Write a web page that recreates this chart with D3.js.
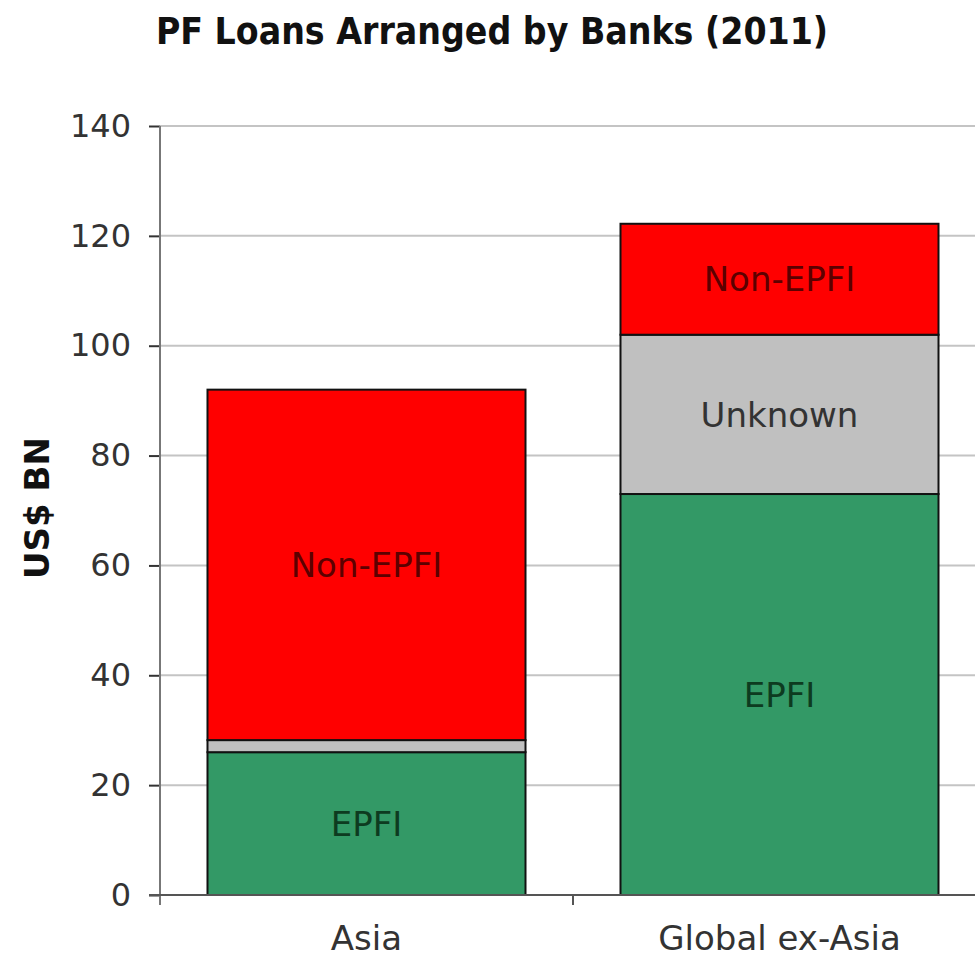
<!DOCTYPE html>
<html>
<head>
<meta charset="utf-8">
<script src="https://cdn.jsdelivr.net/npm/d3@7"></script>
<style>
  body { margin: 0; background: #fff; }
  text { font-family: "DejaVu Sans", Verdana, sans-serif; }
</style>
</head>
<body>
<div class="chart"></div>
<script>
// data
var categories = ["Asia", "Global ex-Asia"];
var seriesNames = ["EPFI", "Unknown", "Non-EPFI"];
var epfi = [26, 73];
var unknown = [2.2, 29];
var nonEpfi = [63.8, 20.2];
var yTicks = [0, 20, 40, 60, 80, 100, 120, 140];

var colors = { "EPFI": "#339966", "Unknown": "#c0c0c0", "Non-EPFI": "#ff0000" };
var labelColors = { "EPFI": "#0d3b20", "Unknown": "#333333", "Non-EPFI": "#5c0000" };

var marg = { t: 126, r: 0, b: 68, l: 160 };
var W = 975, H = 963;
var wid = 826;
var hei = H - marg.t - marg.b;

var svg = d3.select(".chart")
    .append("svg")
    .attr("width", W)
    .attr("height", H);

svg.append("text")
    .attr("x", 492)
    .attr("y", 44)
    .style("text-anchor", "middle")
    .style("font-family", "'DejaVu Sans Condensed', 'DejaVu Sans', sans-serif")
    .style("font-weight", "bold")
    .style("font-size", "37px")
    .attr("fill", "#111")
    .text("PF Loans Arranged by Banks (2011)");

var g = svg.append("g")
    .attr("transform", "translate(" + marg.l + "," + marg.t + ")");

var x = d3.scaleBand()
    .domain(categories)
    .range([0, wid])
    .paddingInner(0.23)
    .paddingOuter(0.115);

var xb = d3.scaleBand().domain(categories).range([0, wid]);

var y = d3.scaleLinear()
    .domain([0, 140])
    .range([hei, 0]);

// gridlines
g.append("g")
    .selectAll("line")
    .data(yTicks.filter(function(d) { return d > 0; }))
    .enter().append("line")
    .attr("x1", 0)
    .attr("x2", wid)
    .attr("y1", function(d) { return y(d); })
    .attr("y2", function(d) { return y(d); })
    .attr("stroke", "#c4c4c4")
    .attr("stroke-width", 2);

// stacked data
var rows = categories.map(function(c, i) {
    return { cat: c, "EPFI": epfi[i], "Unknown": unknown[i], "Non-EPFI": nonEpfi[i] };
});
var stack = d3.stack().keys(seriesNames)(rows);

var layer = g.selectAll("g.layer")
    .data(stack)
    .enter().append("g")
    .attr("class", "layer")
    .attr("fill", function(d) { return colors[d.key]; });

layer.selectAll("rect")
    .data(function(d) { return d; })
    .enter().append("rect")
    .attr("x", function(d) { return x(d.data.cat); })
    .attr("width", x.bandwidth())
    .attr("y", function(d) { return y(d[1]); })
    .attr("height", function(d) { return y(d[0]) - y(d[1]); })
    .attr("stroke", "#111")
    .attr("stroke-width", 2);

// segment labels
stack.forEach(function(s) {
    s.forEach(function(d) {
        if (d[1] - d[0] < 8) return;
        g.append("text")
            .attr("x", x(d.data.cat) + x.bandwidth() / 2)
            .attr("y", (y(d[0]) + y(d[1])) / 2)
            .attr("dy", ".36em")
            .style("text-anchor", "middle")
            .style("font-size", "34px")
            .attr("fill", labelColors[s.key])
            .text(s.key);
    });
});

// y axis
var yAxis = d3.axisLeft(y)
    .tickValues(yTicks)
    .tickSize(11)
    .tickPadding(18);

var ya = g.append("g").call(yAxis);
ya.select(".domain").remove();
ya.selectAll("line").attr("stroke", "#333").attr("stroke-width", 2);
ya.selectAll("text")
    .style("font-size", "32px")
    .attr("fill", "#333");
g.append("line")
    .attr("x1", 0).attr("x2", 0)
    .attr("y1", 0).attr("y2", hei + 10)
    .attr("stroke", "#777")
    .attr("stroke-width", 2);

// x axis
g.append("line")
    .attr("x1", -11).attr("x2", wid)
    .attr("y1", hei).attr("y2", hei)
    .attr("stroke", "#555")
    .attr("stroke-width", 2);
g.append("line")
    .attr("x1", xb.step()).attr("x2", xb.step())
    .attr("y1", hei).attr("y2", hei + 10)
    .attr("stroke", "#555")
    .attr("stroke-width", 2);

g.selectAll("text.cat")
    .data(categories)
    .enter().append("text")
    .attr("class", "cat")
    .attr("x", function(d) { return x(d) + x.bandwidth() / 2; })
    .attr("y", hei + 55)
    .style("text-anchor", "middle")
    .style("font-size", "34px")
    .attr("fill", "#333")
    .text(function(d) { return d; });

// y label
svg.append("text")
    .attr("transform", "translate(49," + 508 + ") rotate(-90)")
    .style("text-anchor", "middle")
    .style("font-weight", "bold")
    .style("font-size", "34px")
    .attr("fill", "#111")
    .text("US$ BN");
</script>
</body>
</html>
